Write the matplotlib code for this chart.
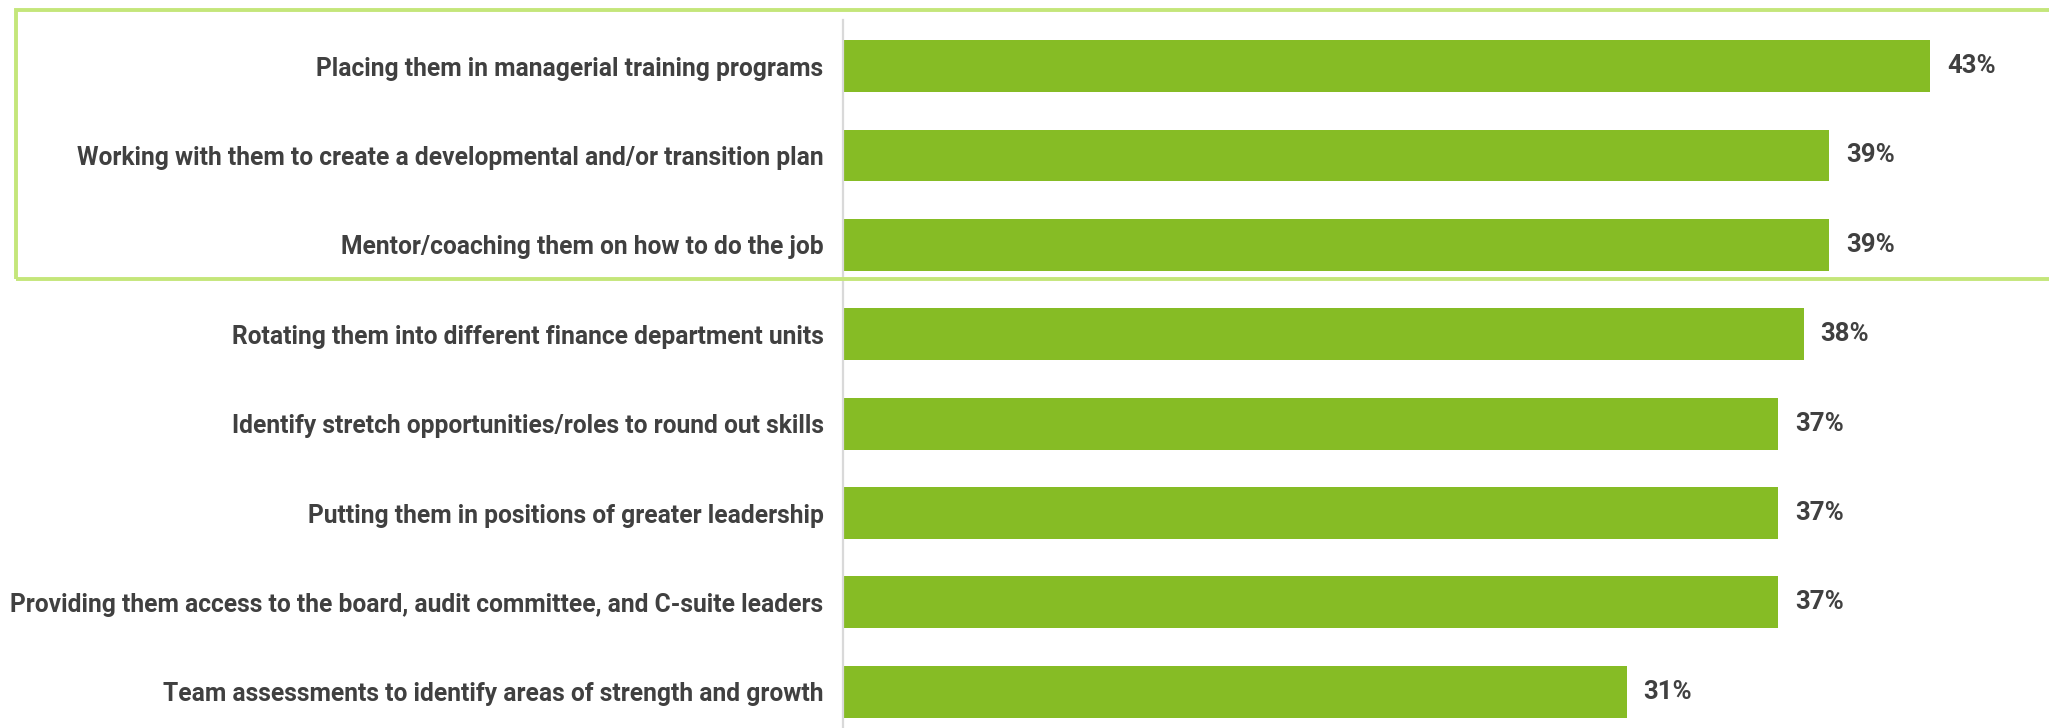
import matplotlib.pyplot as plt
from matplotlib.patches import Rectangle

labels = [
    "Placing them in managerial training programs",
    "Working with them to create a developmental and/or transition plan",
    "Mentor/coaching them on how to do the job",
    "Rotating them into different finance department units",
    "Identify stretch opportunities/roles to round out skills",
    "Putting them in positions of greater leadership",
    "Providing them access to the board, audit committee, and C-suite leaders",
    "Team assessments to identify areas of strength and growth",
]
values = [43, 39, 39, 38, 37, 37, 37, 31]

bar_color = "#86BC25"
box_color = "#C4E67A"
text_color = "#404040"

plt.rcParams["font.family"] = ["Roboto", "DejaVu Sans"]

W, H = 2049, 728
fig = plt.figure(figsize=(W / 100, H / 100), dpi=100)

# axes placed in pixel terms: left edge at x=843, top at y=20, runs off the bottom
left, top, bottom = 843, 20, 728
ax = fig.add_axes([left / W, 1 - bottom / H, (W - left) / W, (bottom - top) / H])

pos = list(range(len(values)))
ax.barh(pos, values, height=0.58, color=bar_color)
ax.set_ylim(7.405, -0.515)
ax.set_xlim(0, (W - left) / 25.28)

for p, v in zip(pos, values):
    ax.annotate(f"{v}%", (v, p), xytext=(17, 0), textcoords="offset pixels",
                va="center", ha="left", fontsize=18.5, fontweight="bold",
                color=text_color)

ax.set_yticks(pos)
ax.set_yticklabels(labels, fontsize=17.7, fontweight="bold", color=text_color)
ax.tick_params(axis="y", length=0, pad=14)
ax.set_xticks([])
for side in ["top", "right", "bottom"]:
    ax.spines[side].set_visible(False)
ax.spines["left"].set_color("#D9D9D9")
ax.spines["left"].set_linewidth(1.6)

# highlight box around the top three items
fig.patches.append(Rectangle((16 / W, 1 - 279 / H), 1.0, (279 - 9.5) / H,
                             transform=fig.transFigure, fill=False,
                             edgecolor=box_color, linewidth=2.8, zorder=5))

fig.savefig("out.png", dpi=100)
